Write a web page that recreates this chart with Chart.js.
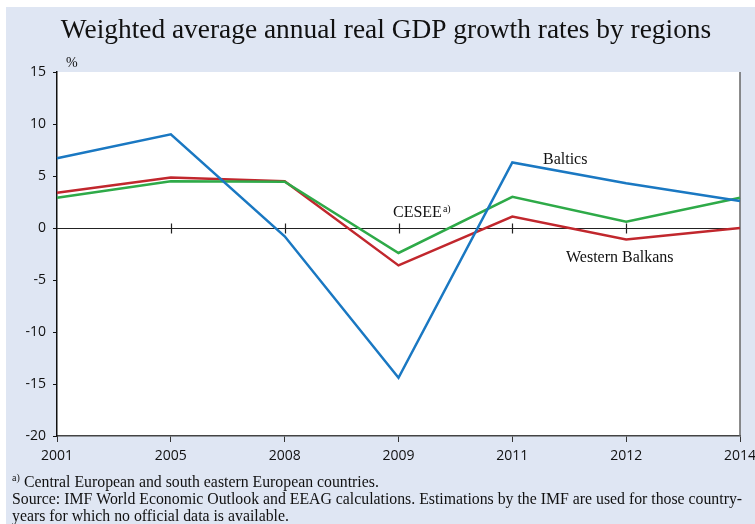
<!DOCTYPE html>
<html>
<head>
<meta charset="utf-8">
<script src="https://cdn.jsdelivr.net/npm/chart.js@4/dist/chart.umd.min.js"></script>
<style>
  html, body { margin: 0; padding: 0; background: #ffffff; }
  #wrap { width: 755px; height: 524px; position: relative; }
</style>
</head>
<body>
<div id="wrap"><canvas id="c" width="755" height="524"></canvas></div>
<script>
const categories = ['2001', '2005', '2008', '2009', '2011', '2012', '2014'];
const baltics = [6.7, 9.0, -0.8, -14.4, 6.3, 4.3, 2.6];
const cesee = [2.9, 4.5, 4.45, -2.4, 3.0, 0.6, 2.9];
const westernBalkans = [3.4, 4.85, 4.5, -3.6, 1.1, -1.1, 0.0];
const yTicks = [15, 10, 5, 0, -5, -10, -15, -20];

const titleText = 'Weighted average annual real GDP growth rates by regions';
const footLines = [
  'Central European and south eastern European countries.',
  'Source: IMF World Economic Outlook and EEAG calculations. Estimations by the IMF are used for those country-',
  'years for which no official data is available.'
];

const BG = '#dfe6f3';
const SERIF = '"Liberation Serif", "Times New Roman", serif';
const SANS = '"Open Sans", "Noto Sans", sans-serif';

const decor = {
  id: 'decor',
  beforeDraw(chart) {
    const ctx = chart.ctx;
    const a = chart.chartArea;
    ctx.save();
    ctx.fillStyle = '#ffffff';
    ctx.fillRect(0, 0, chart.width, chart.height);
    ctx.fillStyle = BG;
    ctx.fillRect(6, 7, chart.width - 6, chart.height - 7);
    ctx.fillStyle = '#ffffff';
    ctx.fillRect(a.left, a.top, a.right - a.left, a.bottom - a.top);
    ctx.restore();
  },
  beforeDatasetsDraw(chart) {
    const ctx = chart.ctx;
    const a = chart.chartArea;
    const x = chart.scales.x, y = chart.scales.y;
    const y0 = Math.round(y.getPixelForValue(0)) + 0.5;
    ctx.save();
    ctx.strokeStyle = '#222';
    ctx.lineWidth = 1.2;
    ctx.beginPath();
    ctx.moveTo(a.left, y0);
    ctx.lineTo(a.right, y0);
    for (let i = 1; i < categories.length - 1; i++) {
      const px = Math.round(x.getPixelForValue(i)) + 0.5;
      ctx.moveTo(px, y0 - 5);
      ctx.lineTo(px, y0 + 5);
    }
    ctx.stroke();
    // right border
    ctx.strokeStyle = '#666';
    ctx.lineWidth = 1.5;
    ctx.beginPath();
    ctx.moveTo(a.right, a.top);
    ctx.lineTo(a.right, a.bottom);
    ctx.stroke();
    ctx.restore();
  },
  afterDraw(chart) {
    const ctx = chart.ctx;
    ctx.save();
    ctx.fillStyle = '#111';
    ctx.textBaseline = 'alphabetic';
    ctx.textAlign = 'center';
    ctx.font = '27.4px ' + SERIF;
    ctx.fillText(titleText, 386, 38);
    ctx.textAlign = 'left';
    ctx.font = '14px ' + SERIF;
    ctx.fillText('%', 66, 67);
    // series labels
    ctx.font = '16px ' + SERIF;
    ctx.fillText('Baltics', 543, 164);
    ctx.fillText('CESEE', 393, 217);
    const w = ctx.measureText('CESEE').width;
    ctx.font = '10px ' + SERIF;
    ctx.fillText('a)', 393 + w + 1, 212);
    ctx.font = '16px ' + SERIF;
    ctx.fillText('Western Balkans', 566, 262);
    // footnotes
    ctx.font = '10px ' + SERIF;
    ctx.fillText('a)', 12, 481);
    ctx.font = '15.8px ' + SERIF;
    ctx.fillText(footLines[0], 24, 487);
    ctx.fillText(footLines[1], 12, 504);
    ctx.fillText(footLines[2], 12, 521);
    ctx.restore();
  }
};

new Chart(document.getElementById('c'), {
  type: 'line',
  data: {
    labels: categories,
    datasets: [
      { label: 'Baltics', data: baltics, borderColor: '#1a78c2', borderWidth: 2.5, pointRadius: 0, tension: 0, fill: false },
      { label: 'CESEE', data: cesee, borderColor: '#2eaa48', borderWidth: 2.5, pointRadius: 0, tension: 0, fill: false },
      { label: 'Western Balkans', data: westernBalkans, borderColor: '#c1272d', borderWidth: 2.5, pointRadius: 0, tension: 0, fill: false }
    ]
  },
  options: {
    responsive: false,
    animation: false,
    devicePixelRatio: 1,
    layout: { padding: { top: 72, left: 0, right: 15, bottom: 0 } },
    plugins: { legend: { display: false }, title: { display: false }, tooltip: { enabled: false } },
    scales: {
      x: {
        type: 'category',
        offset: false,
        grid: { display: true, drawOnChartArea: false, drawTicks: true, tickLength: 6, color: '#333', lineWidth: 1 },
        border: { display: true, color: '#444', width: 1.5 },
        ticks: { color: '#111', font: { family: SANS, size: 14 }, padding: 6, maxRotation: 0, autoSkip: false },
        afterFit(s) { s.height = 88; s.paddingLeft = 0; s.paddingRight = 0; }
      },
      y: {
        min: -20, max: 15,
        afterBuildTicks(s) { s.ticks = yTicks.map(v => ({ value: v })); },
        grid: { display: true, drawOnChartArea: false, drawTicks: true, tickLength: 4, color: '#111', lineWidth: 1 },
        border: { display: true, color: '#111', width: 1.5 },
        ticks: { color: '#111', font: { family: SANS, size: 14 }, padding: 7 },
        afterFit(s) { s.width = 57; s.paddingTop = 0; s.paddingBottom = 0; }
      }
    }
  },
  plugins: [decor]
});
</script>
</body>
</html>
